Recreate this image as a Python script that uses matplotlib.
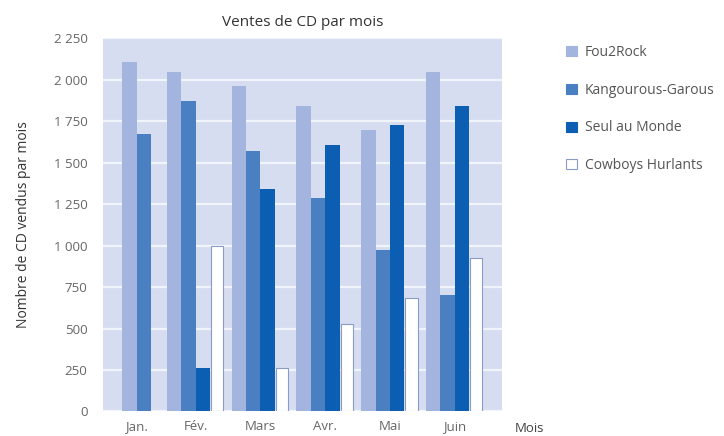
import matplotlib.pyplot as plt
from matplotlib.patches import Patch
from matplotlib.ticker import FuncFormatter, MultipleLocator

# données
mois = ["Jan.", "Fév.", "Mars", "Avr.", "Mai", "Juin"]
series = ["Fou2Rock", "Kangourous-Garous", "Seul au Monde", "Cowboys Hurlants"]
fou2rock = [2110, 2050, 1965, 1845, 1700, 2050]
kangourous = [1675, 1870, 1570, 1285, 975, 700]
seul_au_monde = [None, 265, 1340, 1605, 1725, 1840]
cowboys = [None, 1000, 260, 525, 685, 925]

couleurs = ["#a3b5de", "#4a7fc2", "#0b5eb1", "#ffffff"]
bords = ["none", "none", "none", "#8a9cc6"]

plt.rcParams['font.family'] = ['Open Sans', 'DejaVu Sans']

fig = plt.figure(figsize=(7.24, 4.36), dpi=100)
ax = fig.add_axes([0.1418, 0.0562, 0.5512, 0.8558])
ax.set_facecolor("#d6ddf1")

largeur = 0.222
valeurs = [fou2rock, kangourous, seul_au_monde, cowboys]
for i in range(len(mois)):
    presents = [k for k in range(len(series)) if valeurs[k][i] is not None]
    n = len(presents)
    # le groupe de janvier (2 barres) est un peu décalé vers la droite
    decalage = 0.09 if n < 4 else 0
    for j, k in enumerate(presents):
        x = i + decalage + (j - (n - 1) / 2) * largeur
        w = largeur if k < 3 else largeur * 0.85
        ax.bar(x, valeurs[k][i], width=w, color=couleurs[k],
               edgecolor=bords[k], linewidth=0.8, zorder=2)

ax.set_xlim(-0.436, 5.726)
ax.set_ylim(0, 2250)
ax.yaxis.set_major_locator(MultipleLocator(250))
ax.yaxis.set_major_formatter(FuncFormatter(lambda v, p: f"{v:,.0f}".replace(",", " ")))
ax.set_xticks([i + (0.09 if cowboys[i] is None else 0) for i in range(len(mois))])
ax.set_xticklabels(mois)
ax.grid(axis="y", color="#f2f4fb", linewidth=1.6, zorder=1)
ax.set_axisbelow(True)
for s in ax.spines.values():
    s.set_visible(False)
ax.tick_params(axis="both", length=0, labelsize=9.5, colors="#666666")
ax.tick_params(axis="y", pad=11)
ax.tick_params(axis="x", pad=6)

ax.set_title("Ventes de CD par mois", fontsize=11, color="#333333", pad=9)
ax.set_ylabel("Nombre de CD vendus par mois", fontsize=10, color="#333333", labelpad=16)
fig.text(530 / 724, 1 - 428 / 436, "Mois", fontsize=9.5, color="#444444",
         ha="center", va="center")

handles = [Patch(facecolor=c, edgecolor=(b if b != "none" else c), linewidth=0.8)
           for c, b in zip(couleurs, bords)]
fig.legend(handles, series, loc="upper left", bbox_to_anchor=(0.765, 0.925),
           frameon=False, fontsize=10, labelcolor="#555555",
           handlelength=0.75, handleheight=0.75, handletextpad=0.6, labelspacing=1.63)

fig.savefig("out.png", dpi=100)
